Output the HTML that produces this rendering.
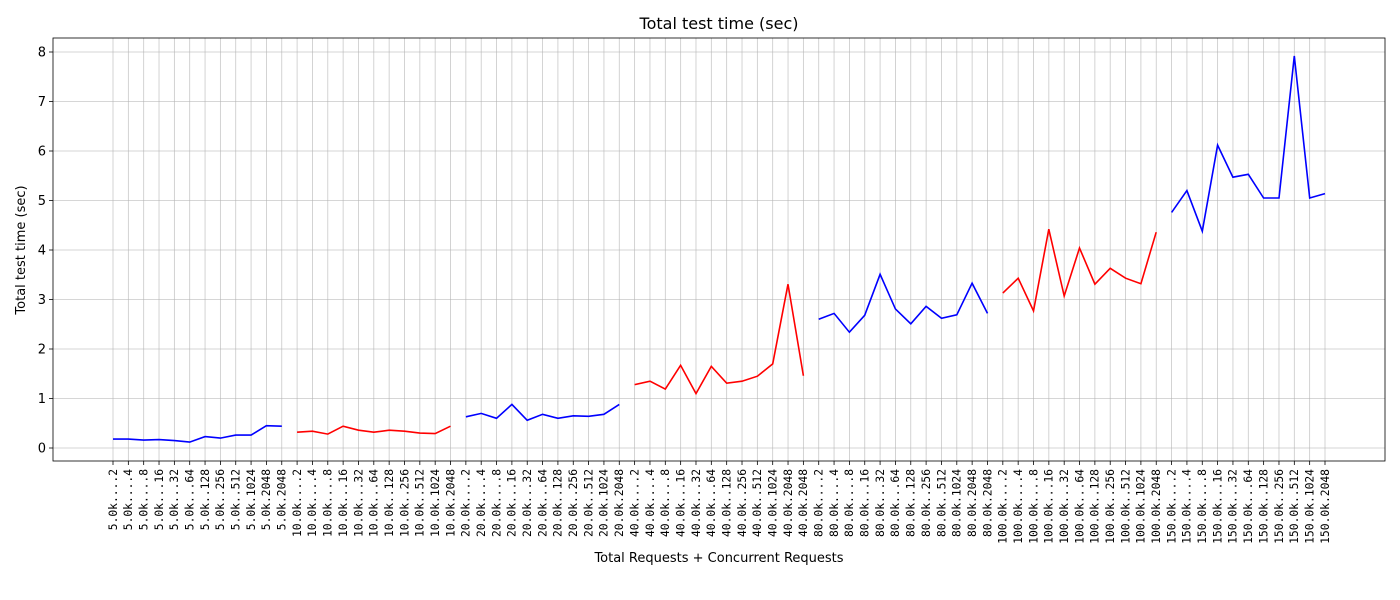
<!DOCTYPE html>
<html><head><meta charset="utf-8"><style>
body{margin:0;background:#fff}
svg{display:block;font-family:"DejaVu Sans","Liberation Sans",sans-serif}
</style></head><body>
<svg id="chart" width="1400" height="600" xmlns="http://www.w3.org/2000/svg">
<text x="719" y="29" font-size="16" text-anchor="middle">Total test time (sec)</text>
<text x="719" y="562" font-size="13" text-anchor="middle">Total Requests + Concurrent Requests</text>
<text transform="translate(25,250) rotate(-90)" font-size="13" text-anchor="middle">Total test time (sec)</text>
<g id="grid"></g><g id="series"></g><g id="axes"></g>
</svg>
<script>
const groups = ["5.0k","10.0k","20.0k","40.0k","80.0k","100.0k","150.0k"];
const concs = [
 ["2","4","8","16","32","64","128","256","512","1024","2048","2048"],
 ["2","4","8","16","32","64","128","256","512","1024","2048"],
 ["2","4","8","16","32","64","128","256","512","1024","2048"],
 ["2","4","8","16","32","64","128","256","512","1024","2048","2048"],
 ["2","4","8","16","32","64","128","256","512","1024","2048","2048"],
 ["2","4","8","16","32","64","128","256","512","1024","2048"],
 ["2","4","8","16","32","64","128","256","512","1024","2048"]
];
const values5k = [0.18,0.18,0.16,0.17,0.15,0.12,0.23,0.2,0.26,0.26,0.45,0.44];
const values10k = [0.32,0.34,0.28,0.44,0.36,0.32,0.36,0.34,0.3,0.29,0.44];
const values20k = [0.63,0.7,0.6,0.88,0.56,0.68,0.6,0.65,0.64,0.68,0.88];
const values40k = [1.28,1.35,1.19,1.67,1.1,1.65,1.31,1.35,1.45,1.7,3.31,1.46];
const values80k = [2.6,2.72,2.34,2.68,3.51,2.81,2.51,2.86,2.62,2.69,3.33,2.72];
const values100k = [3.13,3.43,2.77,4.42,3.07,4.04,3.31,3.63,3.43,3.32,4.36];
const values150k = [4.76,5.2,4.38,6.12,5.47,5.53,5.05,5.05,7.92,5.05,5.14];
const seriesValues = [values5k,values10k,values20k,values40k,values80k,values100k,values150k];
const seriesColors = ["blue","red","blue","red","blue","red","blue"];
const yTicks = [0,1,2,3,4,5,6,7,8];

const NS="http://www.w3.org/2000/svg";
const L=53,R=1385,T=38,B=461;
let total=0; concs.forEach(c=>total+=c.length);
const x0=113,x1=1325;
const xs=i=>x0+i*(x1-x0)/(total-1);
const ys=v=>448-v*49.5;
function mk(tag,attrs,parent){const e=document.createElementNS(NS,tag);for(const k in attrs)e.setAttribute(k,attrs[k]);parent.appendChild(e);return e;}
const grid=document.getElementById('grid'),ser=document.getElementById('series'),ax=document.getElementById('axes');
yTicks.forEach(v=>{
  const y=ys(v);
  const g=mk('line',{x1:L,x2:R,y1:y,y2:y,stroke:'#b0b0b0','stroke-width':0.8,'stroke-opacity':0.7},grid);
  
  
  mk('line',{x1:L-4,x2:L,y1:y,y2:y,stroke:'#000','stroke-width':0.8},ax);
  const t=mk('text',{x:L-7,y:y+4.5,'font-size':13,'text-anchor':'end'},ax);
  t.textContent=v;
  
  
});
let idx=0;
groups.forEach((g,gi)=>{
  const pts=[];
  concs[gi].forEach((c,ci)=>{
    const x=xs(idx);
    const gl=mk('line',{x1:x,x2:x,y1:T,y2:B,stroke:'#b0b0b0','stroke-width':0.8,'stroke-opacity':0.7},grid);
    
    
    mk('line',{x1:x,x2:x,y1:B,y2:B+4,stroke:'#000','stroke-width':0.8},ax);
    const dots='.'.repeat(5-c.length);
    const t=mk('text',{transform:`translate(${x+3.8},${B+8}) rotate(-90)`,'font-size':11.3,'text-anchor':'end','font-family':'"DejaVu Sans Mono","Liberation Mono",monospace'},ax);
    t.textContent=g+dots+c;
    
    
    pts.push(x.toFixed(1)+','+ys(seriesValues[gi][ci]).toFixed(1));
    idx++;
  });
  const pl=mk('polyline',{points:pts.join(' '),fill:'none',stroke:seriesColors[gi],'stroke-width':1.6},ser);
  
  
});
const fr=mk('rect',{x:L,y:T,width:R-L,height:B-T,fill:'none',stroke:'#000','stroke-width':0.8},ax);


</script>
</body></html>
